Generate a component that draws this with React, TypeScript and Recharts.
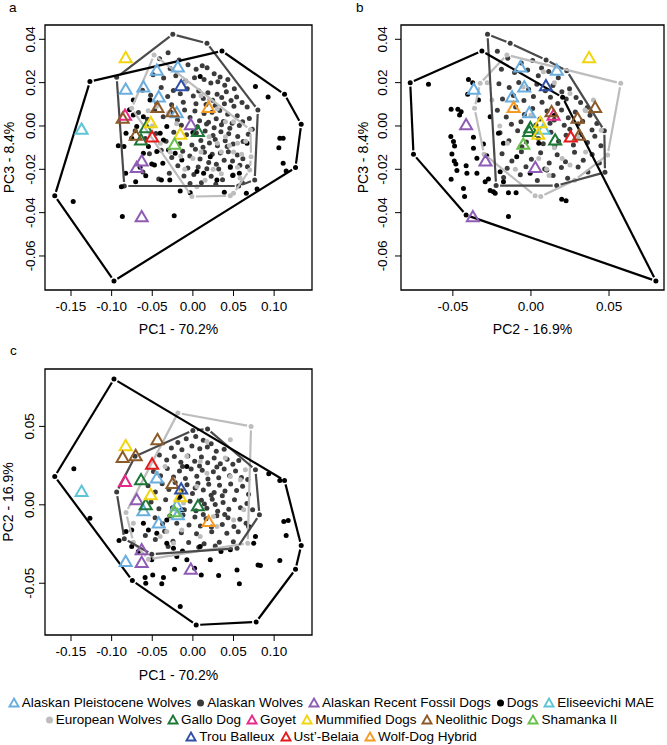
import React from "react";
import { ScatterChart, Scatter, XAxis, YAxis, ReferenceArea } from "recharts";

const FONT = '"Liberation Sans", Arial, Helvetica, sans-serif';

// axis ticks
const pc1Ticks = [-0.15, -0.1, -0.05, 0, 0.05, 0.1];
const pc2Ticks = [-0.05, 0, 0.05];
const pc3Ticks = [-0.06, -0.04, -0.02, 0, 0.02, 0.04];

// ancient specimens, [PC1, PC2, PC3] - the same points are shown in every panel
const pleistoceneWolves = [
  [-0.0444, 0.0166, 0.0254], [-0.0185, -0.0068, 0.0269], [-0.0827, -0.0366, 0.0166],
  [-0.0609, -0.0043, 0.0177], [-0.042, -0.0121, 0.0131], [-0.0198, -0.0011, 0.0058],
];
const recentFossilDogs = [
  [-0.0025, -0.0415, 0.0002], [-0.063, -0.0291, -0.0165], [-0.0691, 0.0028, -0.0195], [-0.063, -0.0372, -0.0422],
];
const eliseevichi = [[-0.137, 0.0081, -0.0018]];
const galloDog = [[-0.058, -0.0004, -0.0012], [-0.0638, 0.0155, -0.0068], [0.0062, -0.0011, -0.0029]];
const goyet = [[-0.0835, 0.0145, 0.0046]];
const mummifiedDogs = [[-0.0827, 0.0372, 0.0312], [-0.0519, 0.006, 0.0012], [-0.0156, 0.0047, -0.0042]];
const neolithicDogs = [
  [-0.0436, 0.0411, 0.0082], [-0.0251, 0.0132, 0.0062], [-0.0704, 0.0309, -0.0046], [-0.0864, 0.0298, 0.0032],
];
const shamanka = [[-0.0226, -0.0049, -0.0088]];
const trouBalleux = [[-0.0144, 0.0096, 0.0182]];
const ustBelaia = [[-0.0502, 0.0255, -0.0054]];
const wolfDogHybrid = [[0.0193, -0.0111, 0.0082]];

// panel a: PC1 vs PC3
const dogsA = [
  [-0.1267, 0.0205], [-0.17, -0.0322], [-0.0971, -0.0715], [0.1263, -0.0192], [0.1333, 0.0008], [0.1128, 0.0146], [0.0358, 0.0346],
  [-0.1473, -0.0348], [-0.0868, -0.0418], [-0.023, -0.0414], [0.077, 0.0182], [0.0926, 0.0134], [0.107, -0.0057], [0.1111, -0.0057],
  [0.1058, -0.01], [0.1111, -0.0172], [0.1148, -0.0208], [0.0572, -0.0218], [0.049, -0.0229], [0.0658, -0.0311], [0.079, -0.0291],
  [0.0387, -0.0306], [-0.0033, -0.0308], [-0.0156, -0.03], [-0.0284, -0.0249], [-0.0387, -0.0249], [-0.0506, -0.0175], [-0.0473, -0.018],
  [-0.0827, -0.0218], [-0.0704, -0.0257], [-0.0823, -0.0034], [-0.0918, -0.0091], [-0.0848, -0.0095], [-0.0733, 0.0051], [-0.0609, 0.0043],
  [-0.037, -0.0172], [-0.0444, -0.0118], [-0.0609, -0.0126], [-0.0547, -0.0095], [-0.0362, -0.0065], [-0.03, -0.0111], [-0.0403, -0.0034],
  [-0.0691, -0.0003], [-0.0753, -0.0057], [-0.0321, -0.0003], [-0.0218, -0.0126], [-0.0136, -0.0157], [0.0214, -0.0142], [0.0132, -0.0218],
  [0.0296, -0.0249], [0.0461, -0.0188], [0.0667, -0.008], [-0.0527, 0.012], [-0.0733, 0.012], [-0.088, -0.028], [-0.078, 0.0075],
  [-0.065, -0.019], [-0.058, -0.023], [0.005, -0.021], [0.0, -0.003], [0.009, 0.0228],
];
const akWolvesA = [
  [-0.0247, 0.0423], [0.0173, 0.0382], [0.08, 0.0074], [0.0761, -0.0249], [0.0564, -0.0277], [-0.0844, -0.0277], [-0.0938, 0.0225], [-0.0305, 0.0338],
  [-0.041, 0.031], [-0.028, 0.0265], [-0.017, 0.0305], [-0.006, 0.0283], [0.004, 0.0262], [0.0115, 0.0278], [0.0175, 0.0269], [0.0262, 0.0241],
  [0.0335, 0.0226], [0.043, 0.0215], [-0.049, 0.0236], [-0.036, 0.0221], [-0.021, 0.0232], [-0.009, 0.0207], [0.002, 0.0223], [0.0138, 0.0214],
  [0.0221, 0.0198], [0.0307, 0.0204], [0.0392, 0.0188], [0.051, 0.0172],
  [-0.062, 0.0165], [-0.052, 0.0142], [-0.039, 0.0178], [-0.031, 0.0136], [-0.024, 0.0164], [-0.0155, 0.0149], [-0.007, 0.0172], [0.0005, 0.0138],
  [0.0072, 0.0161], [0.0128, 0.0127], [0.0185, 0.0153], [0.0243, 0.0119], [0.0298, 0.0146], [0.0355, 0.0131], [0.0412, 0.0158], [0.047, 0.0117],
  [0.0538, 0.0134], [0.0605, 0.0108], [-0.0445, 0.0104], [-0.0262, 0.0098], [-0.0118, 0.0109], [0.0038, 0.0102], [0.0162, 0.0099], [0.0275, 0.0095],
  [0.0388, 0.0102], [0.0505, 0.0091], [0.0668, 0.0088],
  [-0.067, 0.0062], [-0.056, 0.0031], [-0.047, 0.0071], [-0.0365, 0.0043], [-0.0275, 0.0065], [-0.019, 0.0028], [-0.0102, 0.0074], [-0.0035, 0.0039],
  [0.0025, 0.0069], [0.0082, 0.0024], [0.0138, 0.0058], [0.0192, 0.0017], [0.0236, 0.0063], [0.0287, 0.0033], [0.0331, 0.0071], [0.0376, 0.0021],
  [0.0428, 0.0054], [0.0483, 0.0012], [0.0546, 0.0047], [0.0612, 0.0019], [0.0695, 0.0035], [-0.0142, 0.0003], [0.0055, -0.0004], [0.0168, 0.0009],
  [0.0262, -0.0008], [0.0352, 0.0006], [0.0455, -0.0011], [0.0572, 0.0002], [0.0731, -0.0015],
  [-0.071, -0.0022], [-0.0585, -0.0058], [-0.0455, -0.0035], [-0.033, -0.0071], [-0.0235, -0.0029], [-0.0162, -0.0082], [-0.0078, -0.0041], [-0.0012, -0.0088],
  [0.0043, -0.0032], [0.0098, -0.0067], [0.0151, -0.0023], [0.0204, -0.0079], [0.0248, -0.0044], [0.0302, -0.0091], [0.0345, -0.0027], [0.0398, -0.0068],
  [0.0441, -0.0036], [0.0495, -0.0083], [0.0552, -0.0049], [0.0618, -0.0072], [0.0682, -0.0038], [0.0125, -0.0098], [0.0275, -0.0063], [0.0422, -0.0095],
  [-0.0535, -0.0128], [-0.039, -0.0112], [-0.026, -0.0146], [-0.0125, -0.0117], [-0.0038, -0.0139], [0.0031, -0.0108], [0.0088, -0.0152], [0.0142, -0.0121],
  [0.0195, -0.0168], [0.0238, -0.0131], [0.0289, -0.0177], [0.0338, -0.0125], [0.0385, -0.0158], [0.0436, -0.0119], [0.0488, -0.0162], [0.0547, -0.0134],
  [0.0615, -0.0151], [0.0672, -0.0188], [-0.0185, -0.0183], [-0.0062, -0.0194], [0.0065, -0.0189], [0.0172, -0.0197], [0.0318, -0.0199], [0.0461, -0.0192],
  [0.0578, -0.0181],
  [-0.0615, -0.0212], [-0.042, -0.0245], [-0.029, -0.0218], [-0.011, -0.0231], [0.0012, -0.0224], [0.0105, -0.0262], [0.0225, -0.0232], [0.0365, -0.0248],
  [0.0495, -0.0226], [0.0608, -0.0262], [-0.0035, -0.0266], [0.0282, -0.0269],
];
const euWolvesA = [
  [-0.0477, 0.0328], [0.0708, -0.0018], [0.0716, -0.0142], [0.07, -0.0203], [0.05, -0.0311], [0.046, -0.0322], [-0.0012, -0.0326], [-0.0753, 0.0082],
  [-0.055, 0.007], [-0.045, 0.009], [-0.03, 0.006], [-0.02, 0.001], [-0.028, -0.012], [-0.015, -0.014], [-0.01, -0.02], [0.0, -0.015],
  [0.01, -0.012], [0.02, -0.005], [0.03, -0.008], [0.035, -0.012], [0.04, -0.005], [0.045, -0.009], [0.05, -0.012], [0.055, -0.008],
  [0.06, -0.013], [0.065, -0.007], [0.04, 0.002], [0.03, 0.008], [0.02, 0.012], [0.01, 0.014], [-0.01, 0.02], [0.05, 0.002],
  [0.025, -0.02], [0.015, -0.025], [0.005, -0.028], [0.035, -0.022], [0.055, -0.019], [0.058, -0.024], [-0.04, -0.008], [-0.05, 0.0],
];

// panel b: PC2 vs PC3
const dogsB = [
  [-0.0773, 0.02], [-0.0752, -0.0131], [-0.0415, -0.0411], [0.08, -0.0715], [0.0203, 0.0132], [-0.0314, 0.0346],
  [-0.0656, 0.0192], [-0.0373, 0.02], [-0.0405, 0.0146], [-0.0511, 0.0077], [-0.0468, 0.0077], [-0.0447, 0.0066], [-0.0457, 0.0051],
  [-0.0513, -0.0049], [-0.0496, -0.0072], [-0.0489, -0.0092], [-0.0506, -0.0129], [-0.0491, -0.0162], [-0.0481, -0.0175], [-0.0511, -0.0246],
  [-0.0474, -0.0206], [-0.0415, -0.0183], [-0.041, -0.0218], [-0.0432, -0.0288], [-0.0425, -0.0326], [-0.0368, -0.0052], [-0.0368, -0.0103],
  [-0.0346, -0.0149], [-0.0304, -0.0083], [-0.0283, -0.0137], [-0.0272, -0.0245], [-0.0261, -0.0298], [-0.024, -0.0303], [-0.0229, -0.0311],
  [-0.0144, -0.0308], [-0.0095, -0.0308], [-0.0144, -0.0418], [0.0197, -0.0338], [0.0225, -0.0345], [-0.0293, -0.0257], [-0.0197, -0.0211],
  [-0.0176, -0.0257], [-0.0208, -0.0034], [-0.0176, -0.008], [-0.0261, 0.0043], [-0.0336, 0.012], [-0.0091, -0.0142], [-0.0005, -0.0218],
  [0.0101, -0.0203], [-0.0346, -0.0218], [-0.04, 0.0215], [0.015, 0.005], [0.005, -0.008],
];
const akWolvesB = [
  [-0.0278, 0.0423], [-0.0133, 0.0382], [0.0097, 0.0305], [0.0229, 0.0255], [0.047, -0.0022], [0.0474, -0.0214], [0.0165, -0.0275], [-0.0223, -0.0275],
  [-0.0215, 0.0345], [-0.0148, 0.0312], [-0.0062, 0.0291], [0.0011, 0.0302], [0.0068, 0.0268], [-0.0189, 0.0262], [-0.0105, 0.0247], [-0.0021, 0.0258],
  [0.0047, 0.0232], [0.0114, 0.0251], [0.0175, 0.0223],
  [-0.0205, 0.0195], [-0.0139, 0.0178], [-0.0078, 0.0201], [-0.0015, 0.0169], [0.0038, 0.0192], [0.0092, 0.0163], [0.0141, 0.0187], [0.0198, 0.0158],
  [0.0247, 0.0172], [0.0289, 0.0131], [-0.0182, 0.0124], [-0.0112, 0.0141], [-0.0045, 0.0118], [0.0016, 0.0136], [0.0071, 0.0109], [0.0125, 0.0132],
  [0.0172, 0.0104], [0.0226, 0.0125], [0.0318, 0.0108], [0.0361, 0.0085],
  [-0.0215, 0.0072], [-0.0158, 0.0041], [-0.0098, 0.0088], [-0.0042, 0.0053], [0.0011, 0.0081], [0.0058, 0.0032], [0.0103, 0.0069], [0.0149, 0.0027],
  [0.0196, 0.0074], [0.0239, 0.0038], [0.0284, 0.0065], [0.0331, 0.0022], [0.0378, 0.0049], [0.0422, 0.0011], [-0.0125, 0.0008], [-0.0064, 0.0019],
  [0.0032, 0.0005], [0.0122, 0.0012], [0.0213, 0.0003], [0.0302, 0.0009],
  [-0.0198, -0.0031], [-0.0141, -0.0068], [-0.0085, -0.0022], [-0.0029, -0.0074], [0.0021, -0.0035], [0.0079, -0.0082], [0.0128, -0.0029], [0.0177, -0.0071],
  [0.0225, -0.0043], [0.0272, -0.0088], [0.0318, -0.0039], [0.0362, -0.0076], [0.0409, -0.0048], [0.0448, -0.0091], [-0.0058, -0.0096], [0.0048, -0.0058],
  [0.0152, -0.0095], [0.0249, -0.0015], [0.0391, -0.0019],
  [-0.0185, -0.0128], [-0.0122, -0.0162], [-0.0061, -0.0119], [0.0003, -0.0153], [0.0062, -0.0124], [0.0117, -0.0171], [0.0168, -0.0133], [0.0221, -0.0165],
  [0.0279, -0.0121], [0.0335, -0.0158], [0.0392, -0.0132], [0.0438, -0.0171], [-0.0152, -0.0195], [-0.0032, -0.0188], [0.0088, -0.0198], [0.0195, -0.0192],
  [0.0302, -0.0189],
  [-0.0175, -0.0238], [-0.0068, -0.0225], [0.0041, -0.0252], [0.0142, -0.0228], [0.0235, -0.0241], [0.0365, -0.0212],
];
const euWolvesB = [
  [-0.0154, 0.0328], [0.0575, 0.0197], [0.0491, -0.0134], [0.028, -0.025], [0.0063, -0.0326], [0.0027, -0.0322], [-0.03, -0.013], [-0.0361, 0.0082], [-0.0325, 0.0197],
  [-0.025, 0.012], [-0.02, 0.0], [-0.015, -0.008], [-0.005, 0.018], [0.005, -0.015], [0.01, -0.02], [0.015, -0.01], [0.02, -0.015],
  [0.025, -0.018], [0.03, -0.005], [0.035, 0.007], [0.04, 0.012], [0.045, -0.002], [0.025, 0.015], [0.015, 0.02], [0.0, 0.005],
  [0.008, 0.025], [-0.01, -0.02], [0.035, -0.012], [-0.028, 0.02], [0.0346, 0.0074], [0.0116, -0.0229],
];

// panel c: PC1 vs PC2
const dogsC = [
  [-0.0971, 0.0802], [-0.17, 0.0181], [-0.0745, -0.0483], [0.0041, -0.0766], [0.0778, -0.0747], [0.1263, -0.0411], [0.1333, -0.026], [0.1128, 0.0155],
  [0.107, 0.0155], [0.0934, 0.0198], [-0.1465, 0.023], [-0.1267, -0.0085], [-0.0909, -0.0228], [-0.0823, -0.017], [-0.0753, -0.0266],
  [-0.0588, -0.0464], [-0.058, -0.05], [-0.0494, -0.0447], [-0.0383, -0.0504], [-0.0362, -0.0464], [-0.0226, -0.0411], [-0.0156, -0.0649],
  [-0.0128, -0.0294], [0.0021, -0.0404], [0.0103, -0.0447], [0.0317, -0.0451], [0.0572, -0.0504], [0.0346, -0.0298], [0.0461, -0.0287],
  [0.077, -0.0202], [0.0802, -0.0383], [0.0831, -0.0387], [0.107, -0.0355], [0.1148, -0.0196], [0.1119, -0.0106], [0.1173, -0.01],
  [-0.0547, -0.016], [-0.0444, -0.0181], [-0.0321, -0.0245], [-0.0239, -0.0277], [0.009, -0.0266], [0.0214, -0.0351], [-0.0074, -0.0351],
  [-0.0198, -0.033], [-0.0506, -0.0351], [-0.0671, -0.0298], [-0.0753, -0.016], [-0.0609, -0.0117], [0.0687, -0.0138], [0.0543, -0.0415],
  [0.0749, -0.0245], [-0.0156, 0.0053], [-0.0136, -0.0032], [-0.0321, -0.0096], [-0.0074, 0.0245],
];
const akWolvesC = [
  [0.0181, 0.0483], [0.0, 0.0474], [-0.0712, 0.0309], [-0.0938, 0.0081], [-0.0844, -0.0217], [-0.0506, -0.0315], [0.0543, -0.0277], [0.0819, -0.0064], [0.077, 0.0223],
  [-0.0185, 0.0398], [-0.0082, 0.0421], [0.0035, 0.0435], [0.0128, 0.0412], [0.0225, 0.0389], [-0.0265, 0.0362], [-0.0135, 0.0351], [-0.0012, 0.0375],
  [0.0085, 0.0358], [0.0178, 0.0369], [0.0288, 0.0342], [0.0385, 0.0355],
  [-0.0412, 0.0318], [-0.0322, 0.0285], [-0.0228, 0.0308], [-0.0148, 0.0271], [-0.0062, 0.0312], [0.0022, 0.0278], [0.0105, 0.0305], [0.0182, 0.0268],
  [0.0262, 0.0298], [0.0338, 0.0262], [0.0421, 0.0291], [0.0492, 0.0258], [0.0565, 0.0282],
  [-0.0485, 0.0212], [-0.0398, 0.0185], [-0.0315, 0.0232], [-0.0238, 0.0178], [-0.0165, 0.0215], [-0.0092, 0.0168], [-0.0021, 0.0229], [0.0048, 0.0182],
  [0.0115, 0.0221], [0.0185, 0.0164], [0.0252, 0.0211], [0.0318, 0.0172], [0.0385, 0.0228], [0.0452, 0.0185], [0.0525, 0.0215], [0.0598, 0.0175],
  [0.0675, 0.0162], [-0.0128, 0.0245], [0.0082, 0.0248], [0.0295, 0.0241],
  [-0.0552, 0.0121], [-0.0462, 0.0082], [-0.0378, 0.0135], [-0.0295, 0.0098], [-0.0218, 0.0142], [-0.0142, 0.0089], [-0.0072, 0.0128], [-0.0005, 0.0072],
  [0.0062, 0.0138], [0.0128, 0.0095], [0.0195, 0.0131], [0.0262, 0.0078], [0.0328, 0.0125], [0.0395, 0.0088], [0.0465, 0.0132], [0.0538, 0.0091],
  [0.0612, 0.0118], [0.0685, 0.0068], [0.0028, 0.0108], [0.0225, 0.0061], [0.0362, 0.0058],
  [-0.0515, 0.0018], [-0.0418, -0.0025], [-0.0335, 0.0032], [-0.0252, -0.0018], [-0.0178, 0.0041], [-0.0105, -0.0031], [-0.0035, 0.0022], [0.0038, -0.0038],
  [0.0105, 0.0029], [0.0172, -0.0022], [0.0238, 0.0036], [0.0305, -0.0041], [0.0372, 0.0015], [0.0442, -0.0028], [0.0512, 0.0032], [0.0585, -0.0019],
  [0.0665, 0.0008], [0.0735, -0.0031], [0.0142, 0.0005], [0.0275, 0.0002],
  [-0.0465, -0.0082], [-0.0372, -0.0121], [-0.0285, -0.0071], [-0.0198, -0.0118], [-0.0122, -0.0065], [-0.0048, -0.0128], [0.0025, -0.0078], [0.0092, -0.0135],
  [0.0162, -0.0088], [0.0228, -0.0142], [0.0295, -0.0069], [0.0362, -0.0125], [0.0432, -0.0082], [0.0505, -0.0138], [0.0578, -0.0092], [0.0655, -0.0118],
  [0.0128, -0.0061], [0.0392, -0.0061],
  [-0.0585, -0.0195], [-0.0462, -0.0221], [-0.0348, -0.0168], [-0.0245, -0.0232], [-0.0142, -0.0178], [-0.0052, -0.0241], [0.0045, -0.0185], [0.0138, -0.0248],
  [0.0232, -0.0172], [0.0325, -0.0238], [0.0418, -0.0182], [0.0498, -0.0235], [0.0558, -0.0172], [-0.0305, -0.0265], [0.0072, -0.0271], [0.0275, -0.0262],
];
const euWolvesC = [
  [-0.0185, 0.0585], [0.0716, 0.05], [0.0675, -0.0245], [-0.0547, -0.0347], [-0.0733, -0.0238], [-0.0823, -0.0049],
  [-0.0342, 0.0245], [0.009, 0.0277], [0.0399, 0.0298], [0.0461, 0.0181], [0.0584, 0.016], [0.0626, -0.0032], [0.0502, -0.0096],
  [0.0255, -0.0074], [-0.0136, -0.016], [-0.0321, -0.017], [-0.0403, -0.0202], [0.009, -0.0202], [0.0296, -0.0138], [-0.0115, 0.0011],
  [0.0049, 0.0117], [-0.0239, 0.016], [0.0173, 0.0202], [-0.0074, 0.0309], [-0.0444, 0.0202], [0.0173, 0.0404], [0.0461, 0.0415],
  [0.0646, 0.0223], [-0.0239, -0.0245], [-0.0733, -0.0117],
];

const BLACK = "#000000";
const DARK = "#3b3b3b";
const LIGHT = "#bdbdbd";

const TRIANGLES = [
  { name: "Alaskan Pleistocene Wolves", color: "#6aaee0", pts: pleistoceneWolves },
  { name: "Alaskan Recent Fossil Dogs", color: "#8e5cb5", pts: recentFossilDogs },
  { name: "Eliseevichi MAE", color: "#5ec4d8", pts: eliseevichi },
  { name: "Gallo Dog", color: "#1b7837", pts: galloDog },
  { name: "Goyet", color: "#e7298a", pts: goyet },
  { name: "Mummified Dogs", color: "#f2d50f", pts: mummifiedDogs },
  { name: "Neolithic Dogs", color: "#8c5a28", pts: neolithicDogs },
  { name: "Shamanka II", color: "#67c04a", pts: shamanka },
  { name: "Trou Balleux", color: "#2e4fa6", pts: trouBalleux },
  { name: "Ust’-Belaia", color: "#e41a1c", pts: ustBelaia },
  { name: "Wolf-Dog Hybrid", color: "#f59a23", pts: wolfDogHybrid },
];

const LEGEND_ROWS = [
  ["Alaskan Pleistocene Wolves", "Alaskan Wolves", "Alaskan Recent Fossil Dogs", "Dogs", "Eliseevichi MAE"],
  ["European Wolves", "Gallo Dog", "Goyet", "Mummified Dogs", "Neolithic Dogs", "Shamanka II"],
  ["Trou Balleux", "Ust’-Belaia", "Wolf-Dog Hybrid"],
];
const DOT_COLORS: Record<string, string> = { "Alaskan Wolves": DARK, "Dogs": BLACK, "European Wolves": LIGHT };

// convex hull (monotone chain), returned closed
function convexHull(pts: number[][]) {
  const p = [...pts].sort((a, b) => a[0] - b[0] || a[1] - b[1]);
  const cross = (o: number[], a: number[], b: number[]) => (a[0] - o[0]) * (b[1] - o[1]) - (a[1] - o[1]) * (b[0] - o[0]);
  const lower: number[][] = [];
  for (const q of p) {
    while (lower.length >= 2 && cross(lower[lower.length - 2], lower[lower.length - 1], q) <= 0) lower.pop();
    lower.push(q);
  }
  const upper: number[][] = [];
  for (let i = p.length - 1; i >= 0; i--) {
    const q = p[i];
    while (upper.length >= 2 && cross(upper[upper.length - 2], upper[upper.length - 1], q) <= 0) upper.pop();
    upper.push(q);
  }
  lower.pop();
  upper.pop();
  const ring = lower.concat(upper);
  ring.push(ring[0]);
  return ring;
}

const xy = (pts: number[][]) => pts.map(([x, y]) => ({ x, y }));
const fmt = (v: number) => v.toFixed(2);

const dot = (color: string) => (p: any) => <circle cx={p.cx} cy={p.cy} r={2.5} fill={color} />;
const tri = (color: string) => (p: any) => (
  <path
    d={`M${p.cx},${p.cy - 6.5} L${p.cx + 6},${p.cy + 3.8} L${p.cx - 6},${p.cy + 3.8} Z`}
    fill="none" stroke={color} strokeWidth={2}
  />
);
const noShape = () => <g />;

// R's type="b": segments stop a little short of each vertex
const gapLine = (stroke: string) => (props: any) => {
  const pts = props.points || [];
  const gap = 4;
  const segs = [];
  for (let i = 0; i < pts.length - 1; i++) {
    const a = pts[i], b = pts[i + 1];
    const dx = b.x - a.x, dy = b.y - a.y;
    const len = Math.hypot(dx, dy);
    if (len <= gap * 2) continue;
    const ux = dx / len, uy = dy / len;
    segs.push(
      <line key={i} x1={a.x + ux * gap} y1={a.y + uy * gap} x2={b.x - ux * gap} y2={b.y - uy * gap}
        stroke={stroke} strokeWidth={2.2} />
    );
  }
  return <g>{segs}</g>;
};

interface PanelProps {
  letter: string;
  left: number;
  top: number;
  width: number;
  height: number;
  margin: { top: number; right: number; bottom: number; left: number };
  yAxisWidth: number;
  xAxisHeight: number;
  xDomain: number[];
  yDomain: number[];
  xTicks: number[];
  yTicks: number[];
  xi: number;
  yi: number;
  xTitle: string;
  yTitle: string;
  yTickGap: number;
  yTitleX: number;
  xTitleY: number;
  letterX: number;
  letterY: number;
  dogs: number[][];
  akWolves: number[][];
  euWolves: number[][];
}

function Panel(p: PanelProps) {
  const plotL = p.margin.left + p.yAxisWidth;
  const plotR = p.width - p.margin.right;
  const plotT = p.margin.top;
  const plotB = p.height - p.margin.bottom - p.xAxisHeight;
  const YTick = (t: any) => (
    <text x={t.x} y={t.y} transform={`rotate(-90 ${t.x} ${t.y})`} textAnchor="middle" dy="0.36em"
      fontSize={13.5} fontFamily={FONT} fill="#000">{fmt(t.payload.value)}</text>
  );
  return (
    <div style={{ position: "absolute", left: p.left, top: p.top }}>
      <div style={{ position: "absolute", left: p.letterX, top: p.letterY, fontSize: 13.5, fontFamily: FONT }}>{p.letter}</div>
      <ScatterChart width={p.width} height={p.height} margin={p.margin}>
        <XAxis
          type="number" dataKey="x" domain={p.xDomain} ticks={p.xTicks} allowDataOverflow
          height={p.xAxisHeight} axisLine={false} tickLine={{ stroke: "#000" }} tickSize={6} tickMargin={5}
          tick={{ fontSize: 13.5, fill: "#000", fontFamily: FONT }} tickFormatter={fmt} interval={0}
          label={{
            content: () => (
              <text x={(plotL + plotR) / 2} y={p.xTitleY} textAnchor="middle" dy="0.36em" fontSize={14} fontFamily={FONT} fill="#000">
                {p.xTitle}
              </text>
            ),
          }}
        />
        <YAxis
          type="number" dataKey="y" domain={p.yDomain} ticks={p.yTicks} allowDataOverflow
          width={p.yAxisWidth} axisLine={false} tickLine={{ stroke: "#000" }} tickSize={6} tickMargin={p.yTickGap}
          tick={YTick} interval={0}
          label={{
            content: () => (
              <text x={p.yTitleX} y={(plotT + plotB) / 2} transform={`rotate(-90 ${p.yTitleX} ${(plotT + plotB) / 2})`}
                textAnchor="middle" dy="0.36em" fontSize={14} fontFamily={FONT} fill="#000">
                {p.yTitle}
              </text>
            ),
          }}
        />
        <ReferenceArea x1={p.xDomain[0]} x2={p.xDomain[1]} y1={p.yDomain[0]} y2={p.yDomain[1]}
          fill="none" fillOpacity={0} stroke="#000" strokeWidth={1.3} ifOverflow="visible" />
        <Scatter data={xy(p.akWolves)} shape={dot(DARK)} isAnimationActive={false} />
        <Scatter data={xy(p.dogs)} shape={dot(BLACK)} isAnimationActive={false} />
        <Scatter data={xy(p.euWolves)} shape={dot(LIGHT)} isAnimationActive={false} />
        <Scatter data={xy(convexHull(p.euWolves))} shape={noShape} line={gapLine(LIGHT)} lineType="joint" isAnimationActive={false} />
        <Scatter data={xy(convexHull(p.akWolves))} shape={noShape} line={gapLine("#4a4a4a")} lineType="joint" isAnimationActive={false} />
        <Scatter data={xy(convexHull(p.dogs))} shape={noShape} line={gapLine(BLACK)} lineType="joint" isAnimationActive={false} />
        {TRIANGLES.map((g) => (
          <Scatter key={g.name} data={g.pts.map((q) => ({ x: q[p.xi], y: q[p.yi] }))} shape={tri(g.color)} isAnimationActive={false} />
        ))}
      </ScatterChart>
    </div>
  );
}

function LegendSymbol({ name }: { name: string }) {
  const dotColor = DOT_COLORS[name];
  if (dotColor) {
    return (
      <svg width={9} height={10} style={{ verticalAlign: "-1px", marginRight: 2 }}>
        <circle cx={4.5} cy={5} r={3.5} fill={dotColor} />
      </svg>
    );
  }
  const g = TRIANGLES.find((t) => t.name === name)!;
  return (
    <svg width={12} height={11} style={{ verticalAlign: "-1px", marginRight: 2 }}>
      <path d="M6,1.5 L10.5,9.5 L1.5,9.5 Z" fill="none" stroke={g.color} strokeWidth={1.8} />
    </svg>
  );
}

export default function App() {
  return (
    <div style={{ position: "absolute", left: 0, top: 0, width: 667, height: 745, background: "#fff", fontFamily: FONT }}>
      <Panel
        letter="a" left={0} top={0} width={330} height={345}
        margin={{ top: 25, right: 18, bottom: 0, left: 0 }} yAxisWidth={45} xAxisHeight={55}
        xDomain={[-0.182, 0.1466]} yDomain={[-0.0757, 0.0466]} xTicks={pc1Ticks} yTicks={pc3Ticks}
        xi={0} yi={2} xTitle="PC1 - 70.2%" yTitle="PC3 - 8.4%" yTickGap={9} yTitleX={9} xTitleY={329}
        letterX={9} letterY={0} dogs={dogsA} akWolves={akWolvesA} euWolves={euWolvesA}
      />
      <Panel
        letter="b" left={330} top={0} width={337} height={345}
        margin={{ top: 25, right: 3, bottom: 0, left: 0 }} yAxisWidth={71} xAxisHeight={55}
        xDomain={[-0.0832, 0.0852]} yDomain={[-0.0757, 0.0466]} xTicks={pc2Ticks} yTicks={pc3Ticks}
        xi={1} yi={2} xTitle="PC2 - 16.9%" yTitle="PC3 - 8.4%" yTickGap={13} yTitleX={33} xTitleY={329}
        letterX={26} letterY={0} dogs={dogsB} akWolves={akWolvesB} euWolves={euWolvesB}
      />
      <Panel
        letter="c" left={0} top={330} width={330} height={355}
        margin={{ top: 39, right: 18, bottom: 0, left: 0 }} yAxisWidth={45} xAxisHeight={50}
        xDomain={[-0.182, 0.1466]} yDomain={[-0.083, 0.0866]} xTicks={pc1Ticks} yTicks={pc2Ticks}
        xi={0} yi={1} xTitle="PC1 - 70.2%" yTitle="PC2 - 16.9%" yTickGap={10} yTitleX={8} xTitleY={345}
        letterX={10} letterY={13} dogs={dogsC} akWolves={akWolvesC} euWolves={euWolvesC}
      />
      <div style={{ position: "absolute", left: 0, top: 694, width: 667, textAlign: "center", fontSize: 13.5, lineHeight: "17px", color: "#000" }}>
        {LEGEND_ROWS.map((row, i) => (
          <div key={i} style={{ whiteSpace: "nowrap" }}>
            {row.map((name) => (
              <span key={name} style={{ marginRight: 5 }}>
                <LegendSymbol name={name} />
                {name}
              </span>
            ))}
          </div>
        ))}
      </div>
    </div>
  );
}
